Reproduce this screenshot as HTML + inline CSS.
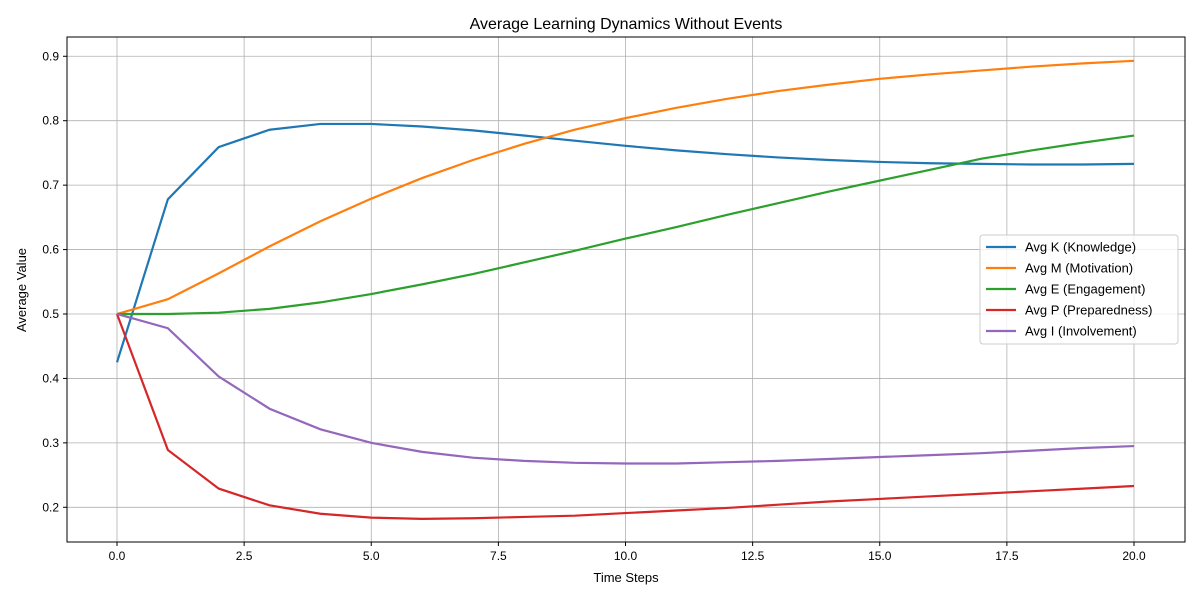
<!DOCTYPE html>
<html><head><meta charset="utf-8"><style>
body{margin:0;background:#fff;}
svg text{font-family:"Liberation Sans","DejaVu Sans",sans-serif;fill:#000;}
</style></head><body>
<svg id="chart" width="1200" height="600" xmlns="http://www.w3.org/2000/svg">
<rect width="1200" height="600" fill="#fff"/>
<g id="grid"></g><g id="lines"></g>
<rect x="67" y="37" width="1118" height="505" fill="none" stroke="#000" stroke-width="1"/>
<g id="axes"></g>
<text x="626" y="29" font-size="16" text-anchor="middle">Average Learning Dynamics Without Events</text>
<text x="626" y="582" font-size="13" text-anchor="middle">Time Steps</text>
<text x="26" y="290" font-size="13" text-anchor="middle" transform="rotate(-90 26 290)">Average Value</text>
<g id="legend"></g>
</svg>
<script>
const steps=[0,1,2,3,4,5,6,7,8,9,10,11,12,13,14,15,16,17,18,19,20];
const seriesK=[0.425,0.678,0.759,0.786,0.795,0.795,0.791,0.785,0.777,0.769,0.761,0.754,0.748,0.743,0.739,0.736,0.734,0.733,0.732,0.732,0.733];
const seriesM=[0.5,0.523,0.563,0.605,0.644,0.679,0.711,0.739,0.764,0.786,0.804,0.820,0.834,0.846,0.856,0.865,0.872,0.878,0.884,0.889,0.893];
const seriesE=[0.5,0.5,0.502,0.508,0.518,0.531,0.546,0.562,0.580,0.598,0.617,0.635,0.654,0.672,0.690,0.707,0.724,0.741,0.754,0.766,0.777];
const seriesP=[0.5,0.289,0.229,0.203,0.190,0.184,0.182,0.183,0.185,0.187,0.191,0.195,0.199,0.204,0.209,0.213,0.217,0.221,0.225,0.229,0.233];
const seriesI=[0.5,0.478,0.403,0.353,0.321,0.300,0.286,0.277,0.272,0.269,0.268,0.268,0.270,0.272,0.275,0.278,0.281,0.284,0.288,0.292,0.295];
const xTicks=[0,2.5,5,7.5,10,12.5,15,17.5,20];
const yTicks=[0.2,0.3,0.4,0.5,0.6,0.7,0.8,0.9];
const legendLabels=["Avg K (Knowledge)","Avg M (Motivation)","Avg E (Engagement)","Avg P (Preparedness)","Avg I (Involvement)"];
const colors=["#1f77b4","#ff7f0e","#2ca02c","#d62728","#9467bd"];
const NS="http://www.w3.org/2000/svg";
const xs=v=>117+(v-0)*(1134-117)/20;
const ys=v=>314-(v-0.5)*644.3;
function mk(t,a,p){const e=document.createElementNS(NS,t);for(const k in a)e.setAttribute(k,a[k]);p.appendChild(e);return e;}
const grid=document.getElementById('grid'),axes=document.getElementById('axes');
xTicks.forEach(t=>{const x=xs(t);
 const g=mk('line',{x1:x,x2:x,y1:37,y2:542,stroke:'#b0b0b0','stroke-width':0.8},grid);
 
 
 mk('line',{x1:x,x2:x,y1:542,y2:546,stroke:'#000'},axes);
 const l=mk('text',{x:x,y:560,'font-size':12,'text-anchor':'middle'},axes);l.textContent=t.toFixed(1);
 
 });
yTicks.forEach(t=>{const y=ys(t);
 const g=mk('line',{x1:67,x2:1185,y1:y,y2:y,stroke:'#b0b0b0','stroke-width':0.8},grid);
 
 
 mk('line',{x1:63,x2:67,y1:y,y2:y,stroke:'#000'},axes);
 const l=mk('text',{x:59,y:y+4,'font-size':12,'text-anchor':'end'},axes);l.textContent=t.toFixed(1);
 
 });
const all=[seriesK,seriesM,seriesE,seriesP,seriesI];
const names=['line-knowledge','line-motivation','line-engagement','line-preparedness','line-involvement'];
const lines=document.getElementById('lines');
all.forEach((s,i)=>{const p=mk('polyline',{points:s.map((v,j)=>xs(steps[j])+','+ys(v)).join(' '),fill:'none',stroke:colors[i],'stroke-width':2.2},lines);
 
 });
const lg=document.getElementById('legend');
mk('rect',{x:980,y:235,width:198,height:109,rx:3,fill:'#fff','fill-opacity':0.8,stroke:'#ccc'},lg);
legendLabels.forEach((t,i)=>{const y=247+i*21;
 mk('line',{x1:986,x2:1016,y1:y,y2:y,stroke:colors[i],'stroke-width':2.2},lg);
 const tx=mk('text',{x:1025,y:y+4.5,'font-size':13},lg);tx.textContent=t;
 
 });
</script>
</body></html>
